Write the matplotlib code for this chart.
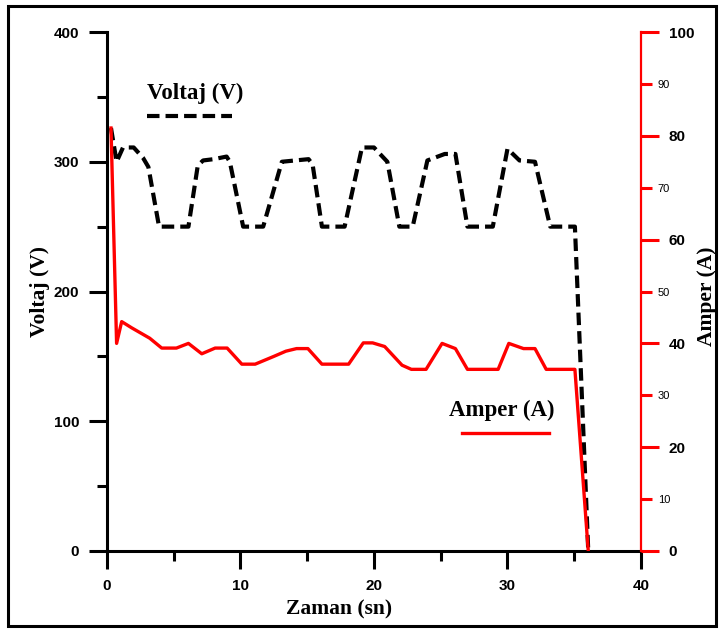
import matplotlib
matplotlib.use("Agg")
import matplotlib.pyplot as plt
from matplotlib.ticker import MultipleLocator, FormatStrFormatter
from matplotlib.patches import Rectangle

# --- Dados ---
t_volt = [0.3, 0.72, 1.2, 2.0, 2.7, 3.1, 3.9, 6.1, 6.8, 7.2, 8.0, 8.96, 9.2, 10.2,
          11.7, 13.1, 15.1, 15.4, 16.1, 17.8, 19.1, 20.0, 20.45, 21.0,
          21.9, 22.9, 24.0, 25.3, 26.1, 27.0, 28.9, 30.0, 30.9, 32.06,
          33.2, 35.05, 36.05]
volt = [326, 300, 311, 311, 303, 296, 250, 250, 297, 301, 302, 304, 300, 250,
        250, 300, 302, 298, 250, 250, 311, 311, 306, 300,
        250, 250, 301, 306, 306, 250, 250, 310, 301, 300,
        250, 250, 0]

t_amp = [0.3, 0.72, 1.1, 1.85, 3.2, 4.1, 5.2, 6.1, 7.1, 8.1, 9.0, 10.1, 11.1,
         12.5, 13.4, 14.2, 15.05, 16.1, 18.1, 19.2, 19.9, 20.8, 22.1, 22.8, 23.9,
         25.1, 26.1, 27.0, 29.3, 30.1, 31.2, 32.06, 32.9, 35.05, 36.05]
amp = [81.5, 40, 44.2, 43, 41, 39.1, 39.1, 40, 38, 39.1, 39.1, 36, 36,
       37.5, 38.5, 39, 39, 36, 36, 40.1, 40.1, 39.4, 35.8, 35, 35,
       40, 39, 35, 35, 40, 39, 39, 35, 35, 0]

x_ticks = [0, 10, 20, 30, 40]
y_ticks = [0, 100, 200, 300, 400]

fonte_num = "Liberation Sans"
fonte_txt = "Liberation Serif"

fig = plt.figure(figsize=(7.19, 6.30), dpi=100)
ax = fig.add_axes([0.1488, 0.1254, 0.7427, 0.8238])
ax2 = ax.twinx()

# --- Curvas ---
ax.plot(t_volt, volt, color="black", lw=3, dashes=[3.0, 1.45])
ax2.plot(t_amp, amp, color="#ff0000", lw=2.4)

# --- Eixo esquerdo / inferior ---
ax.set_xlim(0, 40)
ax.set_ylim(0, 400)
ax.set_xticks(x_ticks)
ax.set_yticks(y_ticks)
ax.xaxis.set_minor_locator(MultipleLocator(5))
ax.yaxis.set_minor_locator(MultipleLocator(50))
for s in ["top", "right"]:
    ax.spines[s].set_visible(False)
for s in ["left", "bottom"]:
    ax.spines[s].set_linewidth(2.2)
ax.tick_params(which="major", length=13, width=2.2, pad=7, direction="out")
ax.tick_params(which="minor", length=7, width=2.2, direction="out")
for lab in ax.get_xticklabels() + ax.get_yticklabels():
    lab.set_fontfamily(fonte_num)
    lab.set_fontweight("bold")
    lab.set_fontsize(11)

# --- Eixo direito (vermelho) ---
ax2.set_ylim(0, 100)
ax2.yaxis.set_major_locator(MultipleLocator(20))
ax2.yaxis.set_minor_locator(MultipleLocator(10))
ax2.yaxis.set_minor_formatter(FormatStrFormatter("%d"))
for s in ["top", "left", "bottom"]:
    ax2.spines[s].set_visible(False)
ax2.spines["right"].set_color("#ff0000")
ax2.spines["right"].set_linewidth(1.6)
ax2.tick_params(which="major", length=13, width=2.2, pad=7, colors="#ff0000",
                labelcolor="black", direction="out")
ax2.tick_params(which="minor", length=8, width=2.2, pad=4, colors="#ff0000",
                labelcolor="black", direction="out")
for lab in ax2.get_yticklabels():
    lab.set_fontfamily(fonte_num)
    lab.set_fontweight("bold")
    lab.set_fontsize(11)
for lab in ax2.get_yticklabels(minor=True):
    lab.set_fontfamily(fonte_num)
    lab.set_fontsize(8)

# --- Rótulos dos eixos ---
ax.set_xlabel("Zaman (sn)", family=fonte_txt, weight="bold", fontsize=15.5)
ax.xaxis.set_label_coords(0.435, -0.112)
ax.xaxis.label.set_va("center")
ax.set_ylabel("Voltaj (V)", family=fonte_txt, weight="bold", fontsize=15.5)
ax.yaxis.set_label_coords(-0.1255, 0.5)
ax.yaxis.label.set_va("center")
ax2.set_ylabel("Amper (A)", family=fonte_txt, weight="bold", fontsize=15.5)
ax2.yaxis.set_label_coords(1.1236, 0.49)
ax2.yaxis.label.set_va("center")

# --- Legendas manuais ---
ax.text(0.165, 0.882, "Voltaj (V)", transform=ax.transAxes, ha="center", va="center",
        family=fonte_txt, weight="bold", fontsize=16.5)
ax.plot([0.075, 0.234], [0.839, 0.839], transform=ax.transAxes, color="black",
        lw=3, dashes=[3.0, 1.45])
ax.text(0.740, 0.270, "Amper (A)", transform=ax.transAxes, ha="center", va="center",
        family=fonte_txt, weight="bold", fontsize=16.5)
ax.plot([0.665, 0.828], [0.227, 0.227], transform=ax.transAxes, color="#ff0000", lw=2.4)

# --- Moldura externa ---
fig.patches.append(Rectangle((8 / 719, 1 - 626 / 630), 708 / 719, 620 / 630,
                             transform=fig.transFigure, fill=False, lw=2.2,
                             edgecolor="black"))

fig.savefig("out.png", dpi=100)
